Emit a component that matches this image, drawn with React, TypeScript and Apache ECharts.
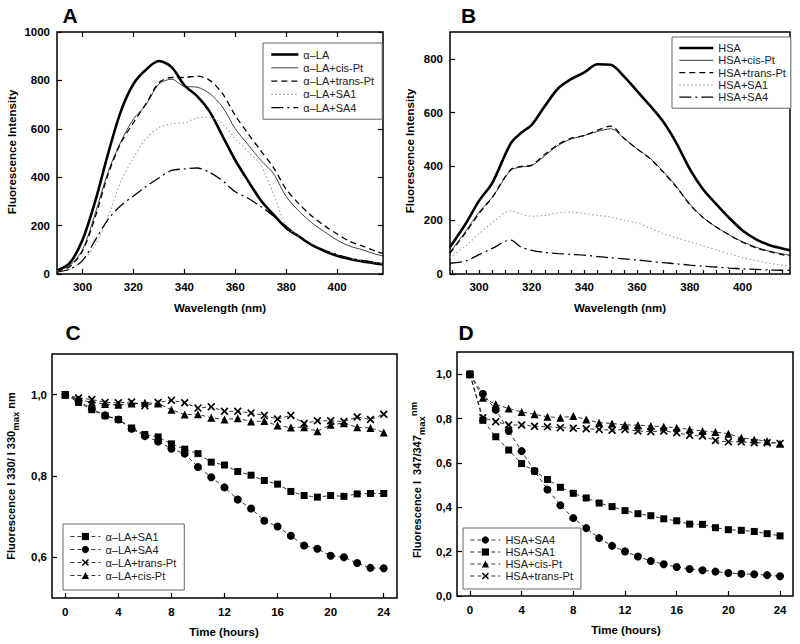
import React, { useEffect, useRef } from 'react';
import * as echarts from 'echarts';

const FONT = "'Liberation Sans', Arial, Helvetica, sans-serif";
const X_PATH = 'path://M0,1.5L1.5,0L5,3.5L8.5,0L10,1.5L6.5,5L10,8.5L8.5,10L5,6.5L1.5,10L0,8.5L3.5,5Z';

// ---------- Panel A : alpha-lactalbumin spectra ----------
const wavelengthA = [290, 295, 300, 305, 310, 315, 320, 325, 330, 335, 340, 345, 350, 355, 360, 365, 370, 375, 380, 385, 390, 395, 400, 405, 410, 415, 418];
const laA = [15, 45, 140, 300, 495, 670, 785, 845, 880, 855, 780, 735, 670, 570, 470, 385, 305, 245, 190, 155, 120, 95, 75, 62, 52, 44, 40];
const laCisA = [15, 35, 100, 250, 420, 545, 640, 700, 785, 805, 775, 772, 745, 690, 600, 535, 470, 415, 320, 260, 212, 175, 140, 115, 100, 82, 75];
const laTransA = [12, 30, 95, 235, 410, 540, 625, 705, 790, 812, 812, 818, 800, 745, 655, 580, 510, 440, 350, 290, 240, 200, 165, 135, 115, 95, 85];
const laSA1A = [12, 20, 55, 120, 235, 380, 480, 560, 605, 620, 625, 645, 648, 620, 560, 505, 450, 330, 200, 155, 125, 100, 80, 65, 55, 48, 45];
const laSA4A = [8, 20, 55, 140, 225, 282, 322, 362, 397, 428, 434, 438, 420, 385, 340, 313, 279, 240, 197, 155, 122, 98, 80, 66, 56, 48, 45];
const xTicksSpec = [300, 320, 340, 360, 380, 400];
const yTicksA = [0, 200, 400, 600, 800, 1000];

// ---------- Panel B : HSA spectra ----------
const wavelengthB = [289, 295, 300, 305, 312, 316, 320, 325, 330, 335, 340, 345, 350, 355, 360, 365, 370, 375, 380, 385, 390, 395, 400, 405, 410, 415, 418];
const hsaB = [100, 188, 272, 338, 485, 525, 555, 625, 690, 725, 750, 780, 778, 735, 680, 625, 565, 485, 390, 315, 260, 208, 162, 130, 108, 95, 88];
const hsaCisB = [80, 160, 230, 285, 385, 398, 403, 440, 478, 502, 515, 530, 540, 505, 465, 430, 380, 325, 260, 210, 175, 145, 120, 100, 85, 75, 70];
const hsaTransB = [78, 155, 225, 285, 388, 400, 405, 445, 482, 505, 515, 535, 550, 505, 465, 428, 378, 322, 258, 210, 175, 145, 118, 98, 84, 72, 68];
const hsaSA1B = [60, 105, 150, 190, 235, 222, 215, 218, 228, 230, 225, 218, 212, 200, 190, 170, 150, 135, 120, 105, 90, 75, 62, 50, 40, 33, 30];
const hsaSA4B = [40, 48, 72, 95, 126, 100, 88, 80, 76, 73, 70, 65, 60, 56, 52, 47, 42, 38, 33, 29, 26, 22, 19, 17, 15, 14, 13];
const xMinorB = [290, 295, 300, 305, 310, 315, 320, 325, 330, 335, 340, 345, 350, 355, 360, 365, 370, 375, 380, 385, 390, 395, 400, 405, 410, 415];
const yTicksB = [0, 200, 400, 600, 800];

// ---------- Panels C & D : kinetics ----------
const hours = [0, 1, 2, 3, 4, 5, 6, 7, 8, 9, 10, 11, 12, 13, 14, 15, 16, 17, 18, 19, 20, 21, 22, 23, 24];
const cSA1 = [1.0, 0.981, 0.963, 0.948, 0.939, 0.918, 0.902, 0.896, 0.879, 0.866, 0.855, 0.834, 0.827, 0.811, 0.802, 0.789, 0.780, 0.762, 0.752, 0.748, 0.752, 0.750, 0.756, 0.757, 0.757];
const cSA4 = [1.0, 0.985, 0.965, 0.949, 0.939, 0.916, 0.898, 0.885, 0.867, 0.855, 0.822, 0.797, 0.772, 0.742, 0.720, 0.690, 0.676, 0.653, 0.629, 0.621, 0.604, 0.600, 0.586, 0.574, 0.573];
const cTrans = [1.0, 0.992, 0.988, 0.981, 0.980, 0.982, 0.973, 0.981, 0.986, 0.980, 0.967, 0.970, 0.959, 0.959, 0.955, 0.949, 0.940, 0.949, 0.929, 0.936, 0.936, 0.934, 0.945, 0.939, 0.952];
const cCis = [1.0, 0.988, 0.981, 0.977, 0.975, 0.978, 0.980, 0.978, 0.963, 0.951, 0.952, 0.943, 0.939, 0.942, 0.934, 0.935, 0.924, 0.919, 0.920, 0.910, 0.926, 0.930, 0.920, 0.918, 0.907];
const dSA4 = [1.0, 0.912, 0.839, 0.744, 0.653, 0.563, 0.480, 0.409, 0.351, 0.306, 0.261, 0.226, 0.201, 0.178, 0.158, 0.143, 0.131, 0.122, 0.116, 0.110, 0.104, 0.100, 0.098, 0.094, 0.089];
const dSA1 = [1.0, 0.792, 0.718, 0.658, 0.597, 0.563, 0.525, 0.490, 0.463, 0.442, 0.419, 0.403, 0.385, 0.371, 0.362, 0.348, 0.339, 0.324, 0.323, 0.308, 0.299, 0.296, 0.291, 0.281, 0.271];
const dCis = [1.0, 0.894, 0.864, 0.845, 0.830, 0.819, 0.808, 0.804, 0.811, 0.796, 0.781, 0.778, 0.771, 0.771, 0.766, 0.763, 0.759, 0.751, 0.744, 0.739, 0.732, 0.713, 0.706, 0.698, 0.686];
const dTrans = [1.0, 0.804, 0.786, 0.771, 0.771, 0.765, 0.763, 0.759, 0.756, 0.754, 0.751, 0.747, 0.751, 0.744, 0.741, 0.744, 0.736, 0.725, 0.721, 0.701, 0.695, 0.695, 0.691, 0.691, 0.688];
const xTicksTime = [0, 4, 8, 12, 16, 20, 24];
const yTicksC = [0.6, 0.8, 1.0];
const yTicksD = [0.0, 0.2, 0.4, 0.6, 0.8, 1.0];

// ---------- helpers ----------
const tickLabel = { color: '#000', fontFamily: FONT, fontWeight: 'bold', fontSize: 11.5 };
const comma = (v: number) => v.toFixed(1).replace('.', ',');

function grid(left: number, top: number, width: number, height: number) {
  return { left, top, width, height, show: true, borderColor: '#000', borderWidth: 1.5, backgroundColor: 'transparent' };
}

function mainAxis(min: number, max: number, labels: number[], margin: number, fmt?: (v: number) => string, tickValues?: number[], tickLen = 5) {
  return {
    type: 'value', min, max,
    axisLine: { show: false, onZero: false },
    splitLine: { show: false },
    axisTick: { show: true, inside: true, length: tickLen, lineStyle: { color: '#000', width: 1.2 }, customValues: tickValues ?? labels },
    axisLabel: { show: true, customValues: labels, margin, formatter: fmt ?? ((v: number) => String(v)), ...tickLabel },
  };
}

function mirrorAxis(min: number, max: number, ticks: number[], position: string) {
  return {
    type: 'value', min, max, position,
    axisLine: { show: false, onZero: false },
    splitLine: { show: false },
    axisLabel: { show: false },
    axisTick: { show: true, inside: true, length: 5, lineStyle: { color: '#000', width: 1.2 }, customValues: ticks },
  };
}

function spec(name: string, xs: number[], ys: number[], color: string, width: number, type: any) {
  return {
    name, type: 'line', data: xs.map((x, i) => [x, ys[i]]),
    showSymbol: false, symbol: 'circle', smooth: 0.3,
    color, itemStyle: { color },
    lineStyle: { color, width, type },
    emphasis: { disabled: true }, silent: true,
  };
}

function kin(name: string, ys: number[], symbol: string, size: number) {
  return {
    name, type: 'line', data: hours.map((h, i) => [h, ys[i]]),
    symbol, symbolSize: size, showSymbol: true,
    color: '#000', itemStyle: { color: '#000' },
    lineStyle: { color: '#000', width: 0.8, type: [4, 3] },
    emphasis: { disabled: true }, silent: true,
  };
}

function legend(left: number, top: number, names: string[], itemWidth: number, itemHeight: number, itemGap: number, padding: number[], hideSymbol: boolean) {
  return {
    left, top, orient: 'vertical', itemWidth, itemHeight, itemGap, padding,
    borderColor: '#666', borderWidth: 1, backgroundColor: '#fff',
    selectedMode: false,
    itemStyle: hideSymbol ? { opacity: 0, borderWidth: 0 } : { borderWidth: 0 },
    lineStyle: { width: 'inherit' },
    textStyle: { fontFamily: FONT, fontSize: 11, color: '#222', lineHeight: 11 },
    data: names,
  };
}

function textEl(text: string, x: number, y: number, size: number, rotate = false) {
  return {
    type: 'text', x, y, rotation: rotate ? Math.PI / 2 : 0,
    style: { text, fontFamily: FONT, fontWeight: 'bold', fontSize: size, fill: '#000', align: 'center', verticalAlign: 'middle' },
  };
}

function richV(text: string, x: number, y: number) {
  return {
    type: 'text', x, y, rotation: Math.PI / 2,
    style: {
      text, fill: '#000', align: 'center', verticalAlign: 'middle',
      rich: {
        a: { fontFamily: FONT, fontWeight: 'bold', fontSize: 11, lineHeight: 18, verticalAlign: 'middle', fill: '#000' },
        sub: { fontFamily: FONT, fontWeight: 'bold', fontSize: 9.5, lineHeight: 18, verticalAlign: 'bottom', fill: '#000' },
        sup: { fontFamily: FONT, fontWeight: 'bold', fontSize: 9.5, lineHeight: 18, verticalAlign: 'top', fill: '#000' },
      },
    },
  };
}

// ---------- options ----------
const LA = 'α–LA';
const optionA = {
  animation: false,
  grid: grid(57, 32, 326, 242),
  xAxis: [mainAxis(290, 418, xTicksSpec, 7), mirrorAxis(290, 418, xTicksSpec, 'top')],
  yAxis: [mainAxis(0, 1000, yTicksA, 7), mirrorAxis(0, 1000, yTicksA, 'right')],
  legend: legend(263, 43, [LA, LA + '+cis-Pt', LA + '+trans-Pt', LA + '+SA1', LA + '+SA4'], 27, 10, 2.3, [6, 8, 6, 7], true),
  series: [
    spec(LA, wavelengthA, laA, '#000', 2.6, 'solid'),
    spec(LA + '+cis-Pt', wavelengthA, laCisA, '#111', 0.8, 'solid'),
    spec(LA + '+trans-Pt', wavelengthA, laTransA, '#000', 1.3, [6, 4]),
    spec(LA + '+SA1', wavelengthA, laSA1A, '#a0a0a0', 1.1, [1.5, 2.5]),
    spec(LA + '+SA4', wavelengthA, laSA4A, '#000', 1.3, [12, 4, 2, 4]),
  ],
  graphic: [
    textEl('A', 70, 15, 21),
    textEl('Fluorescence Intensity', 12, 152, 11.5, true),
    textEl('Wavelength (nm)', 220, 308, 11.5),
  ],
};

const optionB = {
  animation: false,
  grid: grid(50, 32, 340, 242),
  xAxis: [mainAxis(289, 418, xTicksSpec, 7, undefined, xMinorB, 4)],
  yAxis: [mainAxis(0, 900, yTicksB, 7)],
  legend: legend(272, 37, ['HSA', 'HSA+cis-Pt', 'HSA+trans-Pt', 'HSA+SA1', 'HSA+SA4'], 34, 10, 1.3, [5.5, 5, 5.5, 6], true),
  series: [
    spec('HSA', wavelengthB, hsaB, '#000', 2.6, 'solid'),
    spec('HSA+cis-Pt', wavelengthB, hsaCisB, '#111', 0.8, 'solid'),
    spec('HSA+trans-Pt', wavelengthB, hsaTransB, '#000', 1.3, [6, 4]),
    spec('HSA+SA1', wavelengthB, hsaSA1B, '#a0a0a0', 1.1, [1.5, 2.5]),
    spec('HSA+SA4', wavelengthB, hsaSA4B, '#000', 1.3, [12, 4, 2, 4]),
  ],
  graphic: [
    textEl('B', 68.5, 15, 21),
    textEl('Fluorescence Intensity', 10, 151, 11.5, true),
    textEl('Wavelength (nm)', 220, 308, 11.5),
  ],
};

const optionC = {
  animation: false,
  grid: grid(52, 32, 345, 244),
  xAxis: [mainAxis(-1, 25, xTicksTime, 8)],
  yAxis: [mainAxis(0.5, 1.1, yTicksC, 5, comma)],
  legend: legend(63, 202, [LA + '+SA1', LA + '+SA4', LA + '+trans-Pt', LA + '+cis-Pt'], 30, 9, 2, [7, 8, 9, 7], false),
  series: [
    kin(LA + '+SA1', cSA1, 'rect', 7),
    kin(LA + '+SA4', cSA4, 'circle', 8),
    kin(LA + '+trans-Pt', cTrans, X_PATH, 8),
    kin(LA + '+cis-Pt', cCis, 'triangle', 8),
  ],
  graphic: [
    textEl('C', 73, 10, 21),
    richV('{a|Fluorescence I 330/ I 330}{sub|max}{a| nm}', 11, 154),
    textEl('Time (hours)', 224, 310, 11.5),
  ],
};

const optionD = {
  animation: false,
  grid: grid(57, 30, 336, 244),
  xAxis: [mainAxis(-1, 25, xTicksTime, 8)],
  yAxis: [mainAxis(0, 1.1, yTicksD, 5, comma)],
  legend: legend(63, 206, ['HSA+SA4', 'HSA+SA1', 'HSA+cis-Pt', 'HSA+trans-Pt'], 30, 9, 1, [6.5, 8, 7.5, 7], false),
  series: [
    kin('HSA+SA4', dSA4, 'circle', 8),
    kin('HSA+SA1', dSA1, 'rect', 7),
    kin('HSA+cis-Pt', dCis, 'triangle', 8),
    kin('HSA+trans-Pt', dTrans, X_PATH, 8),
  ],
  graphic: [
    textEl('D', 66, 10, 21),
    richV('{a|Fluorescence I  347/347}{sub|max}{sup|nm}', 17, 158),
    textEl('Time (hours)', 226, 308, 11.5),
  ],
};

function Panel({ option, left, top }: { option: any; left: number; top: number }) {
  const ref = useRef<HTMLDivElement>(null);
  useEffect(() => {
    if (!ref.current) return;
    const chart = echarts.init(ref.current, undefined, { renderer: 'svg' });
    chart.setOption(option);
    return () => chart.dispose();
  }, [option]);
  return <div ref={ref} style={{ position: 'absolute', left, top, width: 400, height: 322 }} />;
}

export default function App() {
  return (
    <div style={{ position: 'absolute', left: 0, top: 0, width: 800, height: 644, background: '#fff', overflow: 'hidden' }}>
      <Panel option={optionA} left={0} top={0} />
      <Panel option={optionB} left={400} top={0} />
      <Panel option={optionC} left={0} top={322} />
      <Panel option={optionD} left={400} top={322} />
    </div>
  );
}
